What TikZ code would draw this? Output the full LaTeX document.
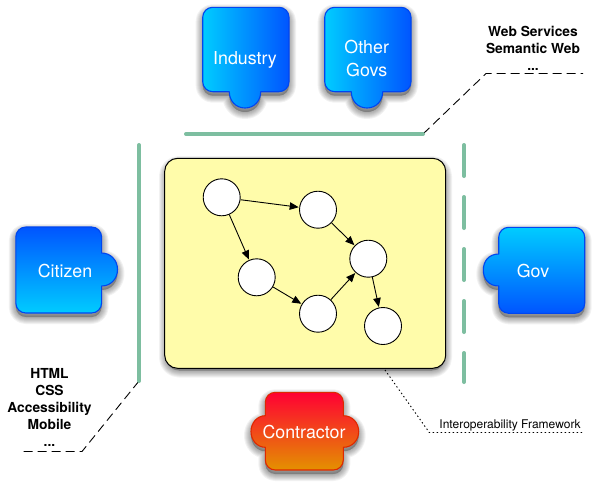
\documentclass[tikz,border=0pt]{standalone}
\usepackage{fontspec}
\setmainfont{TeX Gyre Heros}
\usetikzlibrary{arrows.meta}
\definecolor{lightblue}{RGB}{0,204,255}
\definecolor{deepblue}{RGB}{0,85,255}
\definecolor{blueedge}{RGB}{0,70,240}
\definecolor{hotred}{RGB}{255,0,51}
\definecolor{hotorange}{RGB}{255,85,0}
\definecolor{hotamber}{RGB}{228,145,0}
\definecolor{rededge}{RGB}{222,40,0}
\definecolor{sagegreen}{RGB}{125,190,160}
\definecolor{paleyellow}{RGB}{255,252,170}
\newcommand{\softshadow}[1]{\foreach \w in {14,12,10,8,6,4,2}{\path[fill=black,draw=black,fill opacity=.04,draw opacity=.05,line join=round,line width=\w pt,shift={(0,4)}] #1;}}
\newcommand{\shapeBottomTab}{[rounded corners=10pt] (245,7.3) -- (289,7.3) -- (289,91.7) [sharp corners] -- (260.7,91.7) .. controls (260.7,101) and (254,108) .. (245,108) .. controls (236,108) and (229.3,101) .. (229.3,91.7) [rounded corners=10pt] -- (202.7,91.7) -- (202.7,7.3) -- cycle}
\newcommand{\shapeCitizen}{[rounded corners=10pt] (60,227) -- (101.6,227) [sharp corners] -- (101.6,253) .. controls (111,253) and (117.5,260.5) .. (117.5,269.5) .. controls (117.5,278.5) and (111,286) .. (101.6,286) [rounded corners=10pt] -- (101.6,313) -- (15.8,313) -- (15.8,227) -- cycle}
\newcommand{\shapeGov}{[rounded corners=10pt] (540,227.3) -- (584.7,227.3) -- (584.7,313.3) -- (498.7,313.3) [sharp corners] -- (498.7,286) .. controls (489,286) and (483.3,279) .. (483.3,270) .. controls (483.3,261) and (489,254) .. (498.7,254) [rounded corners=10pt] -- (498.7,227.3) -- cycle}
\newcommand{\shapeContractor}{[rounded corners=10pt] (304,392.3) -- (343.3,392.3) [sharp corners] -- (343.3,415.7) .. controls (352.5,415.7) and (358.7,423) .. (358.7,431.5) .. controls (358.7,440) and (352.5,447.3) .. (343.3,447.3) [rounded corners=10pt] -- (343.3,470) -- (265.3,470) [sharp corners] -- (265.3,447.3) .. controls (257,447.3) and (251,440) .. (251,431.5) .. controls (251,423) and (257,415.7) .. (265.3,415.7) [rounded corners=10pt] -- (265.3,392.3) -- cycle}
\tikzset{
  bluepiece/.style={draw=blueedge,line width=1.1pt,line join=round},
  piecelabel/.style={text=white,font=\fontsize{17.8}{23}\selectfont,align=center,inner sep=0pt},
  stdlabel/.style={text=black,font=\bfseries\fontsize{13.8}{17.2}\selectfont,align=center,inner sep=0pt},
  framelabel/.style={text=black,font=\fontsize{12}{14}\selectfont,inner sep=0pt},
  graphnode/.style={circle,draw=black,fill=white,line width=.9pt,minimum size=37pt,inner sep=0pt},
  graphedge/.style={draw=black,line width=.9pt,-{Triangle[length=9pt,width=7.5pt]},shorten >=.5pt},
  barrier/.style={draw=sagegreen,line width=4pt,line cap=round},
  leader/.style={draw=black,line width=.9pt,dash pattern=on 9pt off 5pt},
  dotleader/.style={draw=black,line width=.9pt,dash pattern=on 1.4pt off 2.6pt}
}
\begin{document}
\begin{tikzpicture}[x=1pt,y=-1pt]
\useasboundingbox (0,0) rectangle (596,485);
\fill[white] (0,0) rectangle (596,485);
% anchors for the barriers and leaders
\coordinate (topL) at (186,134);
\coordinate (topR) at (423,134);
\coordinate (leftT) at (139,145);
\coordinate (leftB) at (139,381);
\coordinate (rightT) at (464,145);
\coordinate (rightB) at (464,382);
\coordinate (webBend) at (486,73.5);
\coordinate (webEnd) at (583,73.5);
\coordinate (htmlBend) at (82,451.5);
\coordinate (htmlEnd) at (20,451.5);
\coordinate (frameStart) at (385,370);
\coordinate (frameBend) at (429.3,432.5);
\coordinate (frameEnd) at (583,432.5);
% leaders
\draw[leader] (topR) -- (webBend) -- (webEnd);
\draw[leader] (leftB) -- (htmlBend) -- (htmlEnd);
\draw[dotleader] (frameStart) -- (frameBend) -- (frameEnd);
% barriers
\draw[barrier] (topL) -- (topR);
\draw[barrier] (leftT) -- (leftB);
\draw[barrier,dash pattern=on 31pt off 21pt] (rightT) -- (rightB);
% framework box
\softshadow{[rounded corners=13pt] (166,159) rectangle (445,366.5)}
\node[draw=black,fill=paleyellow,line width=1pt,rounded corners=13pt,minimum width=281pt,minimum height=210pt,inner sep=0pt] (framework) at (305.2,263.3) {};
% graph
\node[graphnode] (n1) at (221.7,197.3) {};
\node[graphnode] (n2) at (318,209.7) {};
\node[graphnode] (n3) at (368.3,258.7) {};
\node[graphnode] (n4) at (256.7,277.3) {};
\node[graphnode] (n5) at (318,313.7) {};
\node[graphnode] (n6) at (383,326) {};
\draw[graphedge] (n1) -- (n2);
\draw[graphedge] (n1) -- (n4);
\draw[graphedge] (n2) -- (n3);
\draw[graphedge] (n4) -- (n5);
\draw[graphedge] (n5) -- (n3);
\draw[graphedge] (n3) -- (n6);
% pieces
\softshadow{\shapeBottomTab}
\path[bluepiece,left color=lightblue,right color=deepblue] \shapeBottomTab;
\node[piecelabel] (industry) at (245,60) {Industry};
\begin{scope}[shift={(122,0)}]
\softshadow{\shapeBottomTab}
\path[bluepiece,left color=lightblue,right color=deepblue] \shapeBottomTab;
\end{scope}
\node[piecelabel] (othergovs) at (366.7,58.5) {Other\\Govs};
\softshadow{\shapeCitizen}
\path[bluepiece,top color=deepblue,bottom color=lightblue] \shapeCitizen;
\node[piecelabel] (citizen) at (65,271) {Citizen};
\softshadow{\shapeGov}
\path[bluepiece,top color=lightblue,bottom color=deepblue] \shapeGov;
\node[piecelabel] (gov) at (533,271) {Gov};
\softshadow{\shapeContractor}
\path[draw=rededge,line width=1.1pt,top color=hotred,middle color=hotorange,bottom color=hotamber] \shapeContractor;
\node[piecelabel] (contractor) at (304,432) {Contractor};
% labels
\node[stdlabel] (webstack) at (533,48.5) {Web Services\\Semantic Web\\...};
\node[stdlabel] (htmlstack) at (49.5,407.5) {HTML\\CSS\\Accessibility\\Mobile\\...};
\node[framelabel] (frameword) at (510,425) {Interoperability Framework};
\end{tikzpicture}
\end{document}
